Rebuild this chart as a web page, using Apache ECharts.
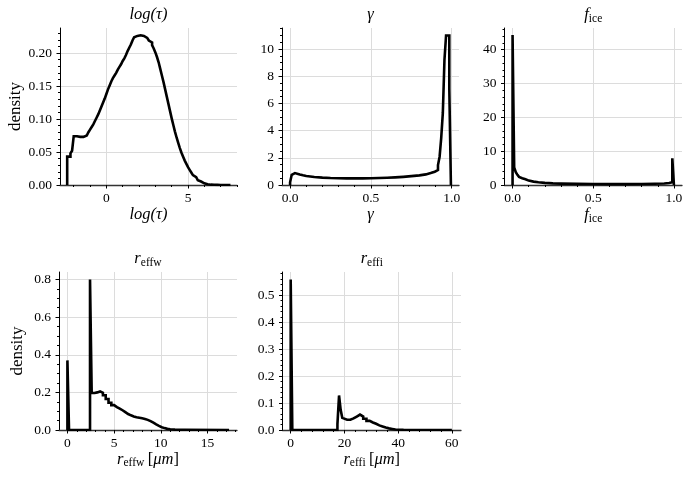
<!DOCTYPE html>
<html>
<head>
<meta charset="utf-8">
<script src="https://cdn.jsdelivr.net/npm/echarts@6/dist/echarts.min.js"></script>
<style>
  html, body { margin: 0; padding: 0; background: #fff; }
  #chart { width: 690px; height: 478px; }
</style>
</head>
<body>
<div id="chart"></div>
<script>
// histogram bins + densities
// log(tau): 100 bins of width 0.1 starting at -2.4
const tauBinStart = -2.4
const tauBinWidth = 0.1
const tauDensity = [0.043, 0.043, 0.048, 0.052, 0.074, 0.074, 0.073, 0.073, 0.073, 0.073,
  0.074, 0.075, 0.077, 0.080, 0.084, 0.088, 0.092, 0.097, 0.102, 0.107,
  0.113, 0.119, 0.125, 0.131, 0.138, 0.145, 0.151, 0.157, 0.162, 0.166,
  0.170, 0.175, 0.179, 0.183, 0.188, 0.192, 0.197, 0.203, 0.208, 0.213,
  0.219, 0.224, 0.226, 0.227, 0.227, 0.226, 0.226, 0.225, 0.223, 0.221,
  0.219, 0.216, 0.212, 0.207, 0.201, 0.194, 0.186, 0.176, 0.166, 0.156,
  0.145, 0.134, 0.123, 0.112, 0.101, 0.091, 0.081, 0.072, 0.064, 0.056,
  0.049, 0.043, 0.037, 0.032, 0.027, 0.023, 0.019, 0.015, 0.012, 0.0095,
  0.0072, 0.0053, 0.0038, 0.0026, 0.0018, 0.0012, 0.0008, 0.0005, 0.0004, 0.0003,
  0.0002, 0.0002, 0.0001, 0.0001, 0.0001, 0.0001, 0.0001, 0.0001, 0.0001, 0.0001]

const gammaEdges = [0.0, 0.01, 0.02, 0.03, 0.04, 0.06, 0.08, 0.10, 0.15, 0.20, 0.25, 0.30, 0.35, 0.40, 0.45, 0.50,
  0.55, 0.60, 0.65, 0.70, 0.75, 0.80, 0.84, 0.87, 0.895, 0.905, 0.915, 0.925, 0.935, 0.945, 0.955, 0.965, 0.975,
  0.985, 0.995]
const gammaDensity = [0.2, 0.75, 0.88, 0.84, 0.77, 0.71, 0.66, 0.59, 0.54, 0.51, 0.50, 0.49, 0.49, 0.49, 0.50, 0.51,
  0.53, 0.56, 0.60, 0.65, 0.71, 0.78, 0.88, 0.98, 1.05, 1.1, 1.47, 2.08, 3.47, 5.3, 9.2, 11.0, 11.0, 7.1]

const ficeEdges = [0.0, 0.01, 0.02, 0.03, 0.04, 0.05, 0.06, 0.08, 0.10, 0.13, 0.16, 0.20, 0.25, 0.30, 0.40, 0.50,
  0.60, 0.70, 0.80, 0.88, 0.94, 0.97, 0.99, 1.0]
const ficeDensity = [44.3, 5.2, 3.8, 3.0, 2.4, 2.0, 1.7, 1.3, 1.0, 0.8, 0.62, 0.48, 0.40, 0.33, 0.28, 0.26, 0.27,
  0.30, 0.36, 0.45, 0.6, 0.8, 7.9]

const reffwEdges = [0.0, 0.175, 2.42, 2.6, 2.9, 3.2, 3.5, 3.8, 4.1, 4.4, 4.7, 5.0, 5.3, 5.6, 5.9, 6.2, 6.5, 6.8, 7.1,
  7.4, 7.7, 8.0, 8.3, 8.6, 8.9, 9.2, 9.5, 9.8, 10.1, 10.4, 10.7, 11.0, 11.5, 12.5, 17.3]
const reffwDensity = [0.37, 0, 0.80, 0.197, 0.200, 0.205, 0.198, 0.185, 0.165, 0.145, 0.132, 0.122, 0.114, 0.105,
  0.095, 0.085, 0.078, 0.072, 0.068, 0.065, 0.062, 0.059, 0.054, 0.047, 0.039, 0.030, 0.022, 0.015, 0.010, 0.006,
  0.004, 0.002, 0.001, 0.0003]

const reffiEdges = [0.0, 0.6, 17.4, 18.0, 18.6, 19.2, 19.8, 21.0, 22.2, 23.4, 24.6, 25.8, 27.0, 28.2, 29.4, 30.6,
  31.8, 33.0, 34.2, 35.4, 36.6, 37.8, 39.0, 42.0, 60.0]
const reffiDensity = [0.558, 0, 0.022, 0.128, 0.075, 0.045, 0.038, 0.038, 0.043, 0.050, 0.057, 0.050, 0.042, 0.034,
  0.028, 0.023, 0.017, 0.013, 0.009, 0.006, 0.004, 0.002, 0.001, 0.0002]

// tick values
const tauXTicks = [0, 5]
const tauYTicks = [0, 0.05, 0.10, 0.15, 0.20]
const gammaXTicks = [0, 0.5, 1.0]
const gammaYTicks = [0, 2, 4, 6, 8, 10]
const ficeXTicks = [0, 0.5, 1.0]
const ficeYTicks = [0, 10, 20, 30, 40]
const reffwXTicks = [0, 5, 10, 15]
const reffwYTicks = [0, 0.2, 0.4, 0.6, 0.8]
const reffiXTicks = [0, 20, 40, 60]
const reffiYTicks = [0, 0.1, 0.2, 0.3, 0.4, 0.5]

const F = 'Liberation Serif'
const rich = {
  i: { fontFamily: F, fontStyle: 'italic', fontSize: 16.5, color: '#000' },
  r: { fontFamily: F, fontSize: 16.5, color: '#000' },
  s: { fontFamily: F, fontSize: 11.5, color: '#000', padding: [8, 0, 0, 0] }
}

const tauEdges = [tauBinStart]
tauDensity.forEach((d, i) => tauEdges.push(+(tauBinStart + (i + 1) * tauBinWidth).toFixed(4)))

const minors = (lo, hi, step) => {
  const out = []
  for (let k = Math.ceil(lo / step - 1e-9); k * step <= hi + 1e-9; k++)
    out.push(+(k * step).toFixed(6))
  return out
}

const steps = (edges, dens) => {
  const pts = [[edges[0], 0]]
  dens.forEach((d, i) => pts.push([edges[i], d]))
  const n = dens.length
  pts.push([edges[n], dens[n - 1]])
  pts.push([edges[n], 0])
  return pts
}

const panels = [
  { grid: { left: 60, top: 28, width: 177, height: 157 }, xMin: -2.84, xMax: 8.0, yMax: 0.238,
    xTicks: tauXTicks, xMinor: 1, xDec: 0, yTicks: tauYTicks, yMinor: 0.01, yDec: 2,
    edges: tauEdges, dens: tauDensity, title: '{i|log(τ)}', xName: '{i|log(τ)}', yName: 'density', yGap: 36 },
  { grid: { left: 282, top: 28, width: 177, height: 157 }, xMin: -0.05, xMax: 1.045, yMax: 11.55,
    xTicks: gammaXTicks, xMinor: 0.1, xDec: 1, yTicks: gammaYTicks, yMinor: 0.5, yDec: 0,
    edges: gammaEdges, dens: gammaDensity, title: '{i|γ}', xName: '{i|γ}' },
  { grid: { left: 504.5, top: 28, width: 177.5, height: 157 }, xMin: -0.05, xMax: 1.05, yMax: 46.4,
    xTicks: ficeXTicks, xMinor: 0.1, xDec: 1, yTicks: ficeYTicks, yMinor: 2, yDec: 0,
    edges: ficeEdges, dens: ficeDensity, title: '{i|f}{s|ice}', xName: '{i|f}{s|ice}' },
  { grid: { left: 59, top: 272, width: 178, height: 158 }, xMin: -0.9, xMax: 18.15, yMax: 0.84,
    xTicks: reffwXTicks, xMinor: 1, xDec: 0, yTicks: reffwYTicks, yMinor: 0.05, yDec: 1,
    edges: reffwEdges, dens: reffwDensity, title: '{i|r}{s|effw}', xName: '{i|r}{s|effw} {r|[}{i|μm}{r|]}',
    yName: 'density', yGap: 33 },
  { grid: { left: 282.5, top: 272, width: 178.5, height: 158 }, xMin: -3.05, xMax: 63.4, yMax: 0.586,
    xTicks: reffiXTicks, xMinor: 4, xDec: 0, yTicks: reffiYTicks, yMinor: 0.02, yDec: 1,
    edges: reffiEdges, dens: reffiDensity, title: '{i|r}{s|effi}', xName: '{i|r}{s|effi} {r|[}{i|μm}{r|]}' }
]

const option = {
  animation: false,
  backgroundColor: '#fff',
  grid: [], xAxis: [], yAxis: [], series: [], graphic: []
}

panels.forEach((p, i) => {
  option.grid.push(p.grid)
  const labelStyle = { fontFamily: F, fontSize: 13.5, color: '#000' }
  option.xAxis.push({
    type: 'value', gridIndex: i, position: 'bottom', min: p.xMin, max: p.xMax,
    name: p.xName, nameLocation: 'middle', nameGap: i < 3 ? 20 : 18,
    nameTextStyle: { rich: rich },
    axisLine: { onZero: false, lineStyle: { color: '#333', width: 1.3 } },
    axisTick: { customValues: p.xTicks, length: 3.5, lineStyle: { color: '#000' } },
    axisLabel: Object.assign({ customValues: p.xTicks, margin: 6,
      formatter: v => v.toFixed(p.xDec) }, labelStyle),
    splitLine: { show: true, lineStyle: { color: '#dcdcdc', width: 1 } }
  })
  option.xAxis.push({
    type: 'value', gridIndex: i, position: 'bottom', min: p.xMin, max: p.xMax,
    axisLine: { show: false, onZero: false },
    axisTick: { customValues: minors(p.xMin, p.xMax, p.xMinor), length: 2, lineStyle: { color: '#000' } },
    axisLabel: { show: false }, splitLine: { show: false }
  })
  option.yAxis.push({
    type: 'value', gridIndex: i, position: 'left', min: 0, max: p.yMax,
    name: p.yName || '', nameLocation: 'middle', nameGap: p.yGap || 30,
    nameTextStyle: { fontFamily: F, fontSize: 17, color: '#000' },
    axisLine: { show: true, onZero: false, lineStyle: { color: '#000', width: 1 } },
    axisTick: { show: true, customValues: p.yTicks, length: 3.5, lineStyle: { color: '#000' } },
    axisLabel: Object.assign({ customValues: p.yTicks, margin: 8,
      formatter: v => v.toFixed(p.yDec) }, labelStyle),
    splitLine: { show: true, lineStyle: { color: '#dcdcdc', width: 1 } }
  })
  option.yAxis.push({
    type: 'value', gridIndex: i, position: 'left', min: 0, max: p.yMax,
    axisLine: { show: false, onZero: false },
    axisTick: { show: true, customValues: minors(0, p.yMax, p.yMinor), length: 2, lineStyle: { color: '#000' } },
    axisLabel: { show: false }, splitLine: { show: false }
  })
  option.series.push({
    type: 'line', step: 'end', xAxisIndex: 2 * i, yAxisIndex: 2 * i,
    data: steps(p.edges, p.dens), showSymbol: false, symbol: 'none',
    lineStyle: { color: '#000', width: 2.6, join: 'miter' }
  })
  option.graphic.push({
    type: 'text', x: p.grid.left + p.grid.width / 2, y: p.grid.top - 13,
    style: { text: p.title, rich: rich, align: 'center', verticalAlign: 'middle' }
  })
})

const chart = echarts.init(document.getElementById('chart'))
chart.setOption(option)
</script>
</body>
</html>
